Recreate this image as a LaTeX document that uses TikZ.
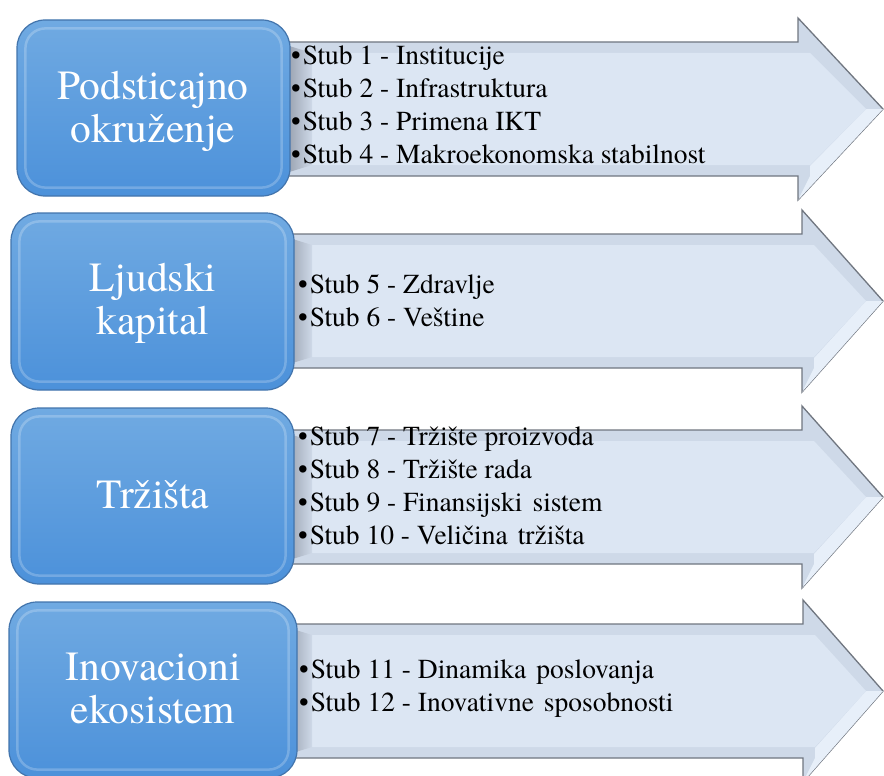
\documentclass[tikz,border=0pt]{standalone}
\usepackage{fontspec}
\setmainfont{TeX Gyre Termes}
\definecolor{boxtop}{RGB}{112,170,226}
\definecolor{boxbot}{RGB}{76,145,218}
\definecolor{boxedge}{RGB}{66,116,172}
\definecolor{arrowout}{RGB}{206,217,232}
\definecolor{arrowin}{RGB}{220,230,243}
\definecolor{arrowlite}{RGB}{231,239,249}
\definecolor{arrowedge}{RGB}{112,118,128}
\definecolor{bevelgray}{RGB}{150,158,172}
\newcommand\pitem[1]{\strut\textbullet\hspace{2pt}#1}
% #1 = centre y, #2 = x of the head base
\newcommand\pillararrow[2]{%
  \filldraw[arrowshape] (270,{#1-67}) -- (#2,{#1-67}) -- (#2,{#1-91}) -- (883,#1)
     -- (#2,{#1+91}) -- (#2,{#1+67}) -- (270,{#1+67}) -- cycle;
  \fill[arrowlite] (#2,{#1+91}) -- (883,#1) -- (866,#1) -- ({#2+12},{#1+57}) -- ({#2+12},{#1+67}) -- cycle;
  \fill[arrowin] (312,{#1-56}) -- ({#2+12},{#1-56}) -- (866,#1) -- ({#2+12},{#1+56}) -- (312,{#1+56}) -- cycle;
  \shade[left color=bevelgray, right color=arrowout] (286,{#1-64}) -- (312,{#1-56}) -- (312,{#1+56}) -- (286,{#1+64}) -- cycle;
}
\begin{document}
\begin{tikzpicture}[x=1pt,y=-1pt,
  arrowshape/.style={fill=arrowout, draw=arrowedge, line width=1.3pt},
  pillar/.style={rectangle, rounded corners=28pt, draw=boxedge, line width=1.2pt,
    top color=boxtop, bottom color=boxbot, inner sep=0pt},
  bevel/.style={draw=white, draw opacity=0.22, line width=2.5pt, rounded corners=20pt},
  lbl/.style={text=white, align=center, inner sep=0pt, font=\fontsize{41.5}{43}\selectfont},
  items/.style={anchor=west, align=left, inner sep=0pt, text=black, font=\fontsize{27.5}{33}\selectfont}]
\useasboundingbox (0,0) rectangle (884,776);

% arrows
\pillararrow{109}{798}
\pillararrow{301}{802}
\pillararrow{497}{802}
\pillararrow{691}{803}

% pillar boxes
\node[pillar, minimum width=273pt, minimum height=176pt] (p1) at (153.5,108) {};
\node[pillar, minimum width=283pt, minimum height=177pt] (p2) at (152.5,301.5) {};
\node[pillar, minimum width=283pt, minimum height=176pt] (p3) at (152.5,496) {};
\node[pillar, minimum width=288pt, minimum height=176pt] (p4) at (153,690) {};
\foreach \p in {p1,p2,p3,p4}{
  \draw[bevel] ([xshift=9pt,yshift=-9pt]\p.north west) rectangle ([xshift=-9pt,yshift=9pt]\p.south east);
}

% box labels
\node[lbl] (t1) at (153,112.4) {\strut Podsticajno\\\strut okruženje};
\node[lbl] (t2) at (153,303.9) {\strut Ljudski\\\strut kapital};
\node[lbl] (t3) at (153,499.4) {\strut Tržišta};
\node[lbl] (t4) at (153,692.9) {\strut Inovacioni\\\strut ekosistem};

% bullet lists
\node[items] (l1) at (291,107.4) {\pitem{Stub 1 - Institucije}\\
  \pitem{Stub 2 - Infrastruktura}\\
  \pitem{Stub 3 - Primena IKT}\\
  \pitem{Stub 4 - Makroekonomska stabilnost}};
\node[items] (l2) at (298,302.9) {\pitem{Stub 5 - Zdravlje}\\
  \pitem{Stub 6 - Veštine}};
\node[items] (l3) at (298,488.4) {\pitem{Stub 7 - Tržište proizvoda}\\
  \pitem{Stub 8 - Tržište rada}\\
  \pitem{Stub 9 - Finansijski\hspace{10pt}sistem}\\
  \pitem{Stub 10 - Veličina\hspace{10pt}tržišta}};
\node[items] (l4) at (299,687.9) {\pitem{Stub 11 - Dinamika\hspace{10pt}poslovanja}\\
  \pitem{Stub 12 - Inovativne\hspace{10pt}sposobnosti}};
\end{tikzpicture}
\end{document}
